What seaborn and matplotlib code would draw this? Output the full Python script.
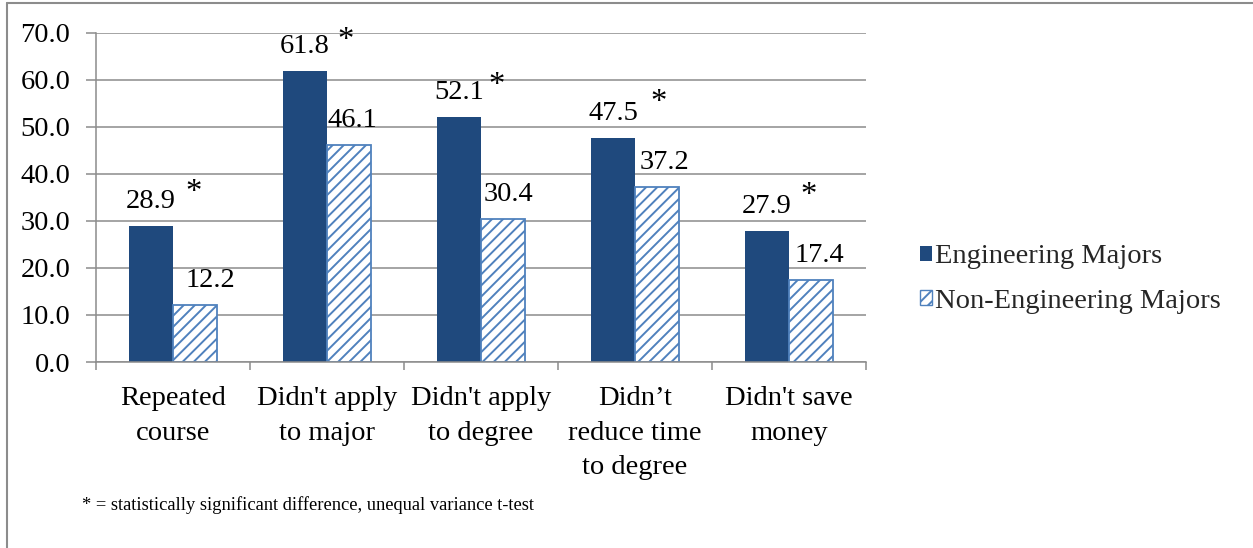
import matplotlib
matplotlib.use("Agg")
import matplotlib.pyplot as plt
import seaborn as sns
import pandas as pd
import numpy as np
from matplotlib.patches import Patch
from matplotlib.lines import Line2D

# ---------------- data ----------------
categories = ["Repeated\ncourse", "Didn't apply\nto major", "Didn't apply\nto degree",
              "Didn\u2019t\nreduce time\nto degree", "Didn't save\nmoney"]
series_names = ["Engineering Majors", "Non-Engineering Majors"]
engineering = [28.9, 61.8, 52.1, 47.5, 27.9]
non_engineering = [12.2, 46.1, 30.4, 37.2, 17.4]
significant = [True, True, True, True, True]
y_ticks = [0, 10, 20, 30, 40, 50, 60, 70]
footnote = "* = statistically significant difference, unequal variance t-test"

# ---------------- style ----------------
ENG_COLOR = "#1F497D"
NON_EDGE = "#4F81BD"
NON_HATCH = "#8DB0DE"
GRID = "#8C8C8C"
FS = 20.5
label_dx = [[0, 0, 0, 0, 0], [15, 3, 5, 7, 8]]   # pixel offsets of value labels
label_dy = 18                                      # baseline above bar top (px)
star_dx = [43, 41, 38, 46, 42]
star_dy = [7, 4, 5, 9, 9]

sns.set_theme(style="white")
plt.rcParams["font.family"] = ["Liberation Serif", "DejaVu Serif"]
plt.rcParams["hatch.linewidth"] = 1.4

df = pd.DataFrame({
    "category": categories * 2,
    "group": [series_names[0]] * len(categories) + [series_names[1]] * len(categories),
    "value": engineering + non_engineering,
})

fig = plt.figure(figsize=(12.53, 5.48), dpi=100)
ax = fig.add_axes([96 / 1253, 1 - 362 / 548, 770 / 1253, 329.5 / 548])

sns.barplot(data=df, x="category", y="value", hue="group", order=categories,
            hue_order=series_names, palette=[ENG_COLOR, "white"], width=0.572,
            saturation=1, errorbar=None, legend=False, ax=ax)

eng_bars, non_bars = ax.containers[0], ax.containers[1]
for p in eng_bars:
    p.set_facecolor(ENG_COLOR)
    p.set_edgecolor(ENG_COLOR)
    p.set_linewidth(0)
for p in non_bars:
    p.set_facecolor("white")
    p.set_edgecolor(NON_EDGE)
    p.set_linewidth(1.3)
    p.set_hatch("///")
    if hasattr(p, "set_hatchcolor"):
        p.set_hatchcolor(NON_HATCH)

ax.set_xlim(-0.5, len(categories) - 0.5)
ax.set_ylim(y_ticks[0], y_ticks[-1])
ax.set_yticks(y_ticks)
ax.set_yticklabels([f"{v:.1f}" for v in y_ticks])
ax.set_xlabel("")
ax.set_ylabel("")
ax.set_xticks(np.arange(-0.5, len(categories), 1.0), minor=True)

ax.set_axisbelow(True)
ax.yaxis.grid(True, color=GRID, linewidth=1.1)
ax.xaxis.grid(False)
for s in ["top", "right"]:
    ax.spines[s].set_visible(False)
for s in ["left", "bottom"]:
    ax.spines[s].set_color(GRID)
    ax.spines[s].set_linewidth(1.1)

ax.tick_params(axis="y", which="major", left=True, length=7, width=1.1, color=GRID,
               pad=11.5, labelsize=FS, labelcolor="black", direction="out")
ax.tick_params(axis="x", which="major", bottom=True, length=0, pad=17.5,
               labelsize=FS, labelcolor="black")
ax.tick_params(axis="x", which="minor", bottom=True, length=6, width=1.1,
               color=GRID, direction="out")
for t in ax.get_xticklabels():
    t.set_multialignment("center")
    t.set_linespacing(1.5)

# value labels
for cont, vals, dxs in zip([eng_bars, non_bars], [engineering, non_engineering], label_dx):
    for p, v, dx in zip(cont, vals, dxs):
        ax.annotate(f"{v:.1f}", xy=(p.get_x() + p.get_width() / 2, p.get_height()),
                    xytext=(dx, label_dy), textcoords="offset pixels",
                    ha="center", va="baseline", fontsize=FS, color="black")

# significance stars
for p, sig, sdx, sdy in zip(eng_bars, significant, star_dx, star_dy):
    if sig:
        ax.annotate("*", xy=(p.get_x() + p.get_width() / 2, p.get_height()),
                    xytext=(sdx, label_dy + sdy), textcoords="offset pixels",
                    ha="center", va="baseline", fontsize=FS + 3, color="black")

handles = [Patch(facecolor=ENG_COLOR, edgecolor=ENG_COLOR, linewidth=0),
           Patch(facecolor="white", edgecolor=NON_EDGE, hatch="///", linewidth=1.0)]
leg = fig.legend(handles, series_names, loc="center left",
                 bbox_to_anchor=(920 / 1253, 1 - 279 / 548), frameon=False,
                 fontsize=FS, handlelength=0.42, handleheight=0.42,
                 handletextpad=0.1, labelspacing=0.68, borderpad=0, borderaxespad=0)

fig.text(82 / 1253, 1 - 505 / 548, footnote, fontsize=13.3, ha="left", va="center",
         color="black")

# outer chart border (left and top visible)
fig.add_artist(Line2D([7 / 1253, 7 / 1253], [0, 1 - 3 / 548], color=GRID, lw=1.5,
                      transform=fig.transFigure))
fig.add_artist(Line2D([7 / 1253, 1], [1 - 3 / 548, 1 - 3 / 548], color=GRID, lw=1.5,
                      transform=fig.transFigure))

fig.savefig("out.png", dpi=100)
